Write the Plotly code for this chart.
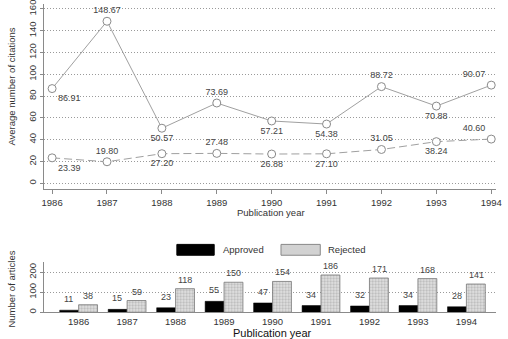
import plotly.graph_objects as go

# ---- data ----
years = [1986, 1987, 1988, 1989, 1990, 1991, 1992, 1993, 1994]
avg_cit_upper = [86.91, 148.67, 50.57, 73.69, 57.21, 54.38, 88.72, 70.88, 90.07]
avg_cit_lower = [23.39, 19.80, 27.20, 27.48, 26.88, 27.10, 31.05, 38.24, 40.60]
upper_pos = ["bottom right", "top center", "bottom center", "top center", "bottom center",
             "bottom center", "top center", "bottom center", "top left"]
lower_pos = ["bottom right", "top center", "bottom center", "top center", "bottom center",
             "bottom center", "top center", "bottom center", "top left"]
approved = [11, 15, 23, 55, 47, 34, 32, 34, 28]
rejected = [38, 59, 118, 150, 154, 186, 171, 168, 141]
year_labels = [str(y) for y in years]

W, H = 508, 339
FONT = "Liberation Sans, Arial, sans-serif"
TXT = "#333333"

def py(p):  # pixel y -> paper
    return 1 - p / H

def px(p):
    return p / W

fig = go.Figure()

# top line chart
fig.add_trace(go.Scatter(
    x=years, y=avg_cit_upper, mode="lines+markers+text",
    line=dict(color="#a0a0a0", width=1),
    marker=dict(symbol="circle", size=8, color="white", line=dict(color="#8a8a8a", width=1)),
    text=[f"{v:.2f}" for v in avg_cit_upper], textposition=upper_pos,
    textfont=dict(family=FONT, size=9, color="#444"),
    xaxis="x", yaxis="y", showlegend=False, cliponaxis=False))
fig.add_trace(go.Scatter(
    x=years, y=avg_cit_lower, mode="lines+markers+text",
    line=dict(color="#a0a0a0", width=1, dash="8px,4px"),
    marker=dict(symbol="circle", size=8, color="white", line=dict(color="#8a8a8a", width=1)),
    text=[f"{v:.2f}" for v in avg_cit_lower], textposition=lower_pos,
    textfont=dict(family=FONT, size=9, color="#444"),
    xaxis="x", yaxis="y", showlegend=False, cliponaxis=False))

# bottom bar chart
idx = list(range(len(years)))
fig.add_trace(go.Bar(
    x=idx, y=approved, name="Approved",
    marker=dict(color="black", line=dict(color="black", width=0.5)),
    xaxis="x2", yaxis="y2", showlegend=False))
fig.add_trace(go.Bar(
    x=idx, y=rejected, name="Rejected",
    marker=dict(color="#d8d8d8", line=dict(color="#777", width=0.8),
                pattern=dict(shape=".", fgcolor="#8c8c8c", bgcolor="#e4e4e4", size=3, solidity=0.45)),
    xaxis="x2", yaxis="y2", showlegend=False))

# bar value labels (placed above each bar, offset to its half of the group)
for i, (a, r) in enumerate(zip(approved, rejected)):
    fig.add_annotation(x=i - 0.2, y=a, xref="x2", yref="y2", text=str(a), showarrow=False,
                       yanchor="bottom", yshift=4, font=dict(size=9, color="#444"))
    fig.add_annotation(x=i + 0.2, y=r, xref="x2", yref="y2", text=str(r), showarrow=False,
                       yanchor="bottom", yshift=2, font=dict(size=9, color="#444"))

xdom = [px(42), px(502)]
GRID = dict(showgrid=True, gridcolor="#9a9a9a", griddash="1px,2px", gridwidth=1)
fig.update_layout(
    width=W, height=H, margin=dict(l=0, r=0, t=0, b=0),
    paper_bgcolor="white", plot_bgcolor="white",
    font=dict(family=FONT, size=9, color=TXT),
    barmode="group", bargap=0.22, bargroupgap=0,
    xaxis=dict(domain=xdom, range=[1985.857, 1994.089], tickvals=years, ticktext=year_labels,
               showline=True, linecolor="#8a8a8a", linewidth=1, ticks="outside", ticklen=4,
               tickcolor="#8a8a8a", showgrid=False, zeroline=False, ticklabeloverflow="allow",
               tickfont=dict(size=9.5, color=TXT), anchor="y"),
    yaxis=dict(domain=[py(188), 1], range=[-5.4, 164.5], tickvals=list(range(0, 161, 20)),
               showline=True, linecolor="#8a8a8a", linewidth=1, ticks="outside", ticklen=3,
               tickcolor="#8a8a8a", tickangle=-90, zeroline=False, ticklabeloverflow="allow",
               tickfont=dict(size=9.5, color=TXT), anchor="x", **GRID),
    xaxis2=dict(domain=xdom, range=[-0.709, 8.613], tickvals=idx, ticktext=year_labels,
                showline=True, linecolor="#8a8a8a", linewidth=1, ticks="", showgrid=False,
                zeroline=False, ticklabeloverflow="allow",
                tickfont=dict(size=9.5, color=TXT), anchor="y2"),
    yaxis2=dict(domain=[py(313), py(262)], range=[0, 250], tickvals=[0, 100, 200],
                showline=True, linecolor="#8a8a8a", linewidth=1, ticks="outside", ticklen=3,
                tickcolor="#8a8a8a", tickangle=-90, zeroline=False,
                tickfont=dict(size=9.5, color=TXT), anchor="x2", **GRID),
)

# axis titles
fig.add_annotation(text="Average number of citations", x=px(9), y=py(84), xref="paper", yref="paper",
                   textangle=-90, showarrow=False, font=dict(size=9.5, color=TXT),
                   xanchor="center", yanchor="middle")
fig.add_annotation(text="Publication year", x=px(273), y=py(212), xref="paper", yref="paper",
                   showarrow=False, font=dict(size=9.5, color=TXT), xanchor="center", yanchor="middle")
fig.add_annotation(text="Number of articles", x=px(9), y=py(289), xref="paper", yref="paper",
                   textangle=-90, showarrow=False, font=dict(size=9.5, color=TXT),
                   xanchor="center", yanchor="middle")
fig.add_annotation(text="Publication year", x=px(274), y=py(334), xref="paper", yref="paper",
                   showarrow=False, font=dict(size=11, color="#111"), xanchor="center", yanchor="middle")

# legend (manual)
fig.add_shape(type="rect", xref="paper", yref="paper", x0=px(177), x1=px(215), y0=py(255), y1=py(244),
              fillcolor="black", line=dict(color="black", width=1))
fig.add_annotation(text="Approved", x=px(222), y=py(249.5), xref="paper", yref="paper",
                   showarrow=False, font=dict(size=9.5, color=TXT), xanchor="left", yanchor="middle")
fig.add_shape(type="rect", xref="paper", yref="paper", x0=px(283), x1=px(323), y0=py(255), y1=py(244),
              fillcolor="#d2d2d2", line=dict(color="#888", width=1))
fig.add_annotation(text="Rejected", x=px(329), y=py(249.5), xref="paper", yref="paper",
                   showarrow=False, font=dict(size=9.5, color=TXT), xanchor="left", yanchor="middle")

fig.write_html("out.html")
